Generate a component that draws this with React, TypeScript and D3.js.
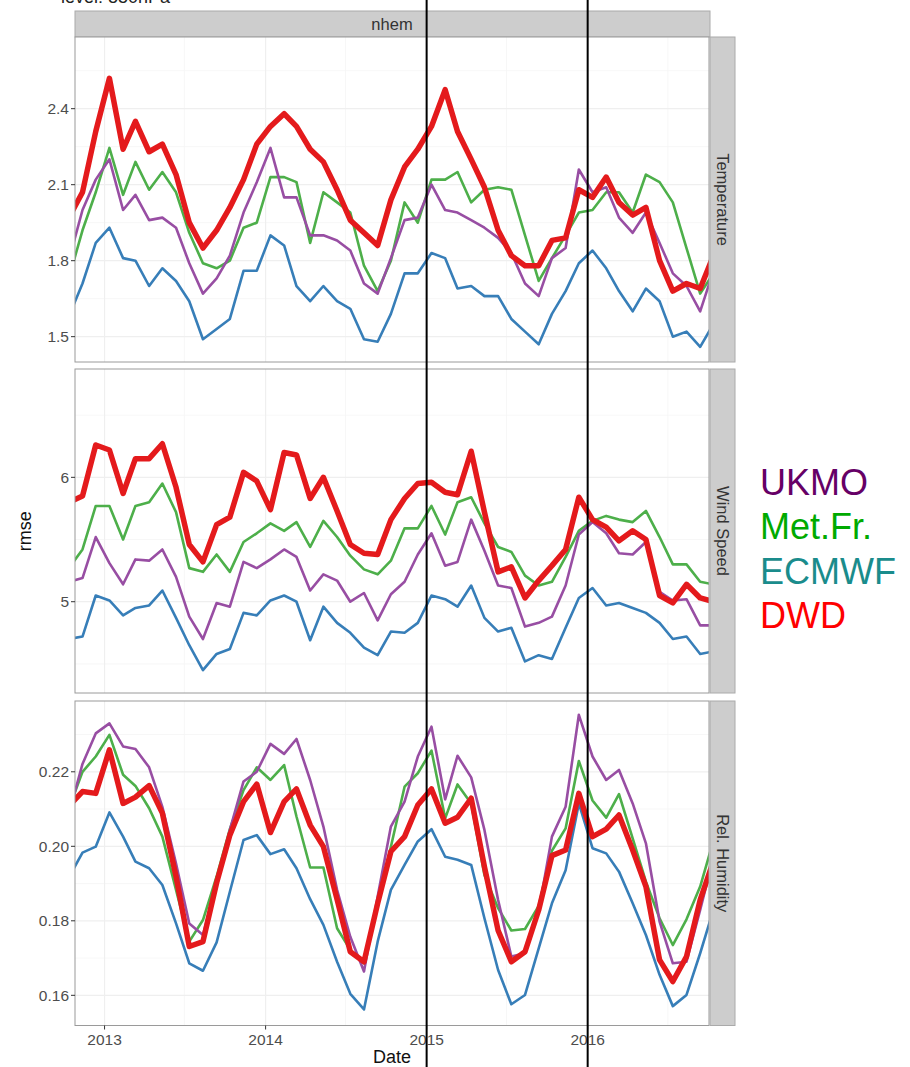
import React from 'react';
import * as d3 from 'd3';

const width = 910;
const height = 1067;
const plotLeft = 75;
const plotRight = 709;
const font = '"Liberation Sans", Arial, Helvetica, sans-serif';

// monthly points, Oct 2012 .. Oct 2016 (first and last get clipped by the panel)
const months = d3.timeMonth
  .range(new Date(2012, 9, 1), new Date(2016, 10, 1))
  .map((d) => new Date(d.getFullYear(), d.getMonth(), 12));

const models = ['ECMWF', 'Met.Fr.', 'UKMO', 'DWD'];
const lineColors = { UKMO: '#984EA3', 'Met.Fr.': '#4DAF4A', ECMWF: '#377EB8', DWD: '#E41A1C' };
const legendNames = ['UKMO', 'Met.Fr.', 'ECMWF', 'DWD'];
const legendColors = ['#660066', '#00AA00', '#1A8C8C', '#FF0000'];
const markerYears = [2015, 2016];
const yearTicks = [2013, 2014, 2015, 2016];

const tempDWD = [1.97, 2.07, 2.31, 2.52, 2.24, 2.35, 2.23, 2.26, 2.14, 1.95, 1.85, 1.92, 2.01, 2.12, 2.26, 2.33, 2.38, 2.33, 2.24, 2.19, 2.08, 1.96, 1.91, 1.86, 2.04, 2.17, 2.24, 2.33, 2.475, 2.31, 2.2, 2.09, 1.92, 1.82, 1.78, 1.78, 1.88, 1.89, 2.08, 2.05, 2.13, 2.03, 1.98, 2.01, 1.8, 1.68, 1.71, 1.69, 1.82];
const tempMetFr = [1.73, 1.92, 2.07, 2.245, 2.06, 2.19, 2.08, 2.15, 2.07, 1.91, 1.79, 1.77, 1.8, 1.93, 1.95, 2.13, 2.13, 2.11, 1.87, 2.07, 2.03, 1.99, 1.78, 1.68, 1.8, 2.03, 1.95, 2.12, 2.12, 2.15, 2.03, 2.08, 2.09, 2.08, 1.9, 1.72, 1.81, 1.9, 1.99, 2.0, 2.07, 2.07, 1.99, 2.14, 2.11, 2.03, 1.85, 1.67, 1.75];
const tempUKMO = [1.8, 2.0, 2.12, 2.2, 2.0, 2.06, 1.96, 1.97, 1.93, 1.79, 1.67, 1.73, 1.82, 1.99, 2.11, 2.245, 2.05, 2.05, 1.9, 1.9, 1.88, 1.84, 1.71, 1.67, 1.81, 1.96, 1.97, 2.1, 2.0, 1.99, 1.96, 1.93, 1.89, 1.83, 1.71, 1.66, 1.81, 1.85, 2.16, 2.07, 2.09, 1.97, 1.91, 1.99, 1.87, 1.75, 1.7, 1.6, 1.76];
const tempECMWF = [1.58, 1.71, 1.87, 1.93, 1.81, 1.8, 1.7, 1.77, 1.72, 1.64, 1.49, 1.53, 1.57, 1.76, 1.76, 1.9, 1.86, 1.7, 1.64, 1.7, 1.64, 1.61, 1.49, 1.48, 1.59, 1.75, 1.75, 1.83, 1.81, 1.69, 1.7, 1.66, 1.66, 1.57, 1.52, 1.47, 1.59, 1.68, 1.79, 1.84, 1.77, 1.68, 1.6, 1.69, 1.64, 1.5, 1.52, 1.46, 1.55];

const windDWD = [5.8, 5.85, 6.26, 6.22, 5.87, 6.15, 6.15, 6.27, 5.92, 5.46, 5.32, 5.62, 5.68, 6.04, 5.97, 5.74, 6.2, 6.18, 5.83, 6.0, 5.73, 5.46, 5.39, 5.38, 5.66, 5.83, 5.95, 5.96, 5.88, 5.86, 6.21, 5.72, 5.24, 5.28, 5.03, 5.17, 5.29, 5.42, 5.84, 5.66, 5.6, 5.49, 5.57, 5.5, 5.05, 4.99, 5.14, 5.03, 5.0];
const windMetFr = [5.27, 5.42, 5.77, 5.77, 5.5, 5.77, 5.8, 5.95, 5.72, 5.27, 5.24, 5.38, 5.24, 5.48, 5.55, 5.63, 5.57, 5.64, 5.44, 5.65, 5.52, 5.37, 5.26, 5.22, 5.33, 5.59, 5.59, 5.77, 5.54, 5.8, 5.84, 5.63, 5.44, 5.4, 5.21, 5.13, 5.16, 5.36, 5.57, 5.65, 5.69, 5.66, 5.64, 5.73, 5.52, 5.3, 5.3, 5.16, 5.14];
const windUKMO = [5.16, 5.19, 5.52, 5.31, 5.14, 5.34, 5.33, 5.42, 5.2, 4.88, 4.7, 4.99, 4.96, 5.32, 5.27, 5.34, 5.42, 5.36, 5.09, 5.22, 5.17, 5.0, 5.07, 4.85, 5.06, 5.16, 5.38, 5.55, 5.29, 5.32, 5.66, 5.41, 5.13, 5.11, 4.8, 4.83, 4.88, 5.13, 5.54, 5.64, 5.55, 5.39, 5.38, 5.48, 5.08, 5.01, 5.02, 4.81, 4.81];
const windECMWF = [4.7, 4.72, 5.05, 5.01, 4.89, 4.95, 4.97, 5.09, 4.87, 4.65, 4.45, 4.58, 4.62, 4.91, 4.89, 5.01, 5.05, 5.0, 4.69, 4.96, 4.83, 4.75, 4.63, 4.57, 4.76, 4.75, 4.83, 5.05, 5.02, 4.96, 5.13, 4.87, 4.76, 4.79, 4.52, 4.57, 4.54, 4.79, 5.03, 5.11, 4.97, 4.99, 4.95, 4.91, 4.83, 4.7, 4.72, 4.58, 4.6];

const rhDWD = [0.2108, 0.2147, 0.2142, 0.2259, 0.2115, 0.2132, 0.2163, 0.2089, 0.1919, 0.1731, 0.1744, 0.1902, 0.203, 0.212, 0.2167, 0.2037, 0.212, 0.2154, 0.2057, 0.1999, 0.1858, 0.1717, 0.169, 0.1847, 0.1986, 0.2026, 0.2111, 0.2154, 0.2062, 0.2078, 0.2129, 0.1945, 0.1774, 0.169, 0.1717, 0.1829, 0.1975, 0.199, 0.2142, 0.2026, 0.2046, 0.2084, 0.199, 0.1892, 0.1695, 0.1637, 0.1704, 0.1856, 0.196];
const rhMetFr = [0.2101, 0.22, 0.2241, 0.2299, 0.2192, 0.2162, 0.2102, 0.2026, 0.1883, 0.1744, 0.1802, 0.1919, 0.2046, 0.2151, 0.2212, 0.2178, 0.2218, 0.208, 0.1943, 0.1943, 0.178, 0.1722, 0.1686, 0.1847, 0.1999, 0.216, 0.2196, 0.2257, 0.2075, 0.2166, 0.2115, 0.1923, 0.1834, 0.1774, 0.1778, 0.184, 0.1988, 0.2048, 0.2229, 0.2123, 0.2077, 0.214, 0.2021, 0.1905, 0.1807, 0.1735, 0.1804, 0.1892, 0.2015];
const rhUKMO = [0.2087, 0.2221, 0.2303, 0.233, 0.2268, 0.2261, 0.2212, 0.2106, 0.1954, 0.1793, 0.1762, 0.1901, 0.2044, 0.2174, 0.22, 0.2275, 0.2248, 0.2288, 0.2178, 0.2053, 0.1883, 0.1757, 0.1664, 0.1865, 0.2053, 0.212, 0.2241, 0.2321, 0.2126, 0.2243, 0.2185, 0.2044, 0.1856, 0.1704, 0.1713, 0.1827, 0.2026, 0.2106, 0.2353, 0.2241, 0.2178, 0.2205, 0.2115, 0.2008, 0.1798, 0.1686, 0.169, 0.1829, 0.197];
const rhECMWF = [0.1916, 0.1983, 0.1999, 0.2091, 0.2026, 0.1959, 0.1941, 0.1896, 0.1793, 0.1686, 0.1666, 0.1742, 0.1878, 0.2017, 0.203, 0.1979, 0.1992, 0.1941, 0.1858, 0.1789, 0.169, 0.1604, 0.1562, 0.1744, 0.1883, 0.195, 0.2013, 0.2046, 0.1972, 0.1964, 0.195, 0.1807, 0.1668, 0.1576, 0.1601, 0.1726, 0.1847, 0.1936, 0.2115, 0.1995, 0.1981, 0.1932, 0.1847, 0.1762, 0.1655, 0.1571, 0.1601, 0.1713, 0.183];

const panels = [
  {
    label: 'Temperature', top: 37, bottom: 362, domain: [1.4, 2.683],
    ticks: [1.5, 1.8, 2.1, 2.4], minor: [1.65, 1.95, 2.25, 2.55], fmt: d3.format('.1f'),
    series: { ECMWF: tempECMWF, 'Met.Fr.': tempMetFr, UKMO: tempUKMO, DWD: tempDWD },
  },
  {
    label: 'Wind Speed', top: 369, bottom: 693, domain: [4.266, 6.871],
    ticks: [5, 6], minor: [4.5, 5.5, 6.5], fmt: d3.format('d'),
    series: { ECMWF: windECMWF, 'Met.Fr.': windMetFr, UKMO: windUKMO, DWD: windDWD },
  },
  {
    label: 'Rel. Humidity', top: 701, bottom: 1025.5, domain: [0.1519, 0.239],
    ticks: [0.16, 0.18, 0.2, 0.22], minor: [0.17, 0.19, 0.21, 0.23], fmt: d3.format('.2f'),
    series: { ECMWF: rhECMWF, 'Met.Fr.': rhMetFr, UKMO: rhUKMO, DWD: rhDWD },
  },
];

const xScale = d3.scaleTime()
  .domain([new Date(2012, 9, 26), new Date(2016, 9, 2)])
  .range([plotLeft, plotRight]);

const Panel = ({ p, idx }) => {
  const yScale = d3.scaleLinear().domain(p.domain).range([p.bottom, p.top]);
  const line = d3.line().x((d, i) => xScale(months[i])).y((d) => yScale(d));
  const clipId = `clip-${idx}`;
  const majorX = yearTicks.map((y) => new Date(y, 0, 1));
  const minorX = [2012, 2013, 2014, 2015, 2016].map((y) => new Date(y, 6, 1));
  return (
    <g>
      <defs>
        <clipPath id={clipId}>
          <rect x={plotLeft} y={p.top} width={plotRight - plotLeft} height={p.bottom - p.top} />
        </clipPath>
      </defs>
      <rect x={plotLeft} y={p.top} width={plotRight - plotLeft} height={p.bottom - p.top} fill="#fff" />
      <g clipPath={`url(#${clipId})`}>
        {p.minor.map((t) => (
          <line key={'mn' + t} x1={plotLeft} x2={plotRight} y1={yScale(t)} y2={yScale(t)} stroke="#F5F5F5" strokeWidth={0.8} />
        ))}
        {minorX.map((d) => (
          <line key={'mx' + d} x1={xScale(d)} x2={xScale(d)} y1={p.top} y2={p.bottom} stroke="#F5F5F5" strokeWidth={0.8} />
        ))}
        {p.ticks.map((t) => (
          <line key={'gy' + t} x1={plotLeft} x2={plotRight} y1={yScale(t)} y2={yScale(t)} stroke="#EFEFEF" strokeWidth={1.2} />
        ))}
        {majorX.map((d) => (
          <line key={'gx' + d} x1={xScale(d)} x2={xScale(d)} y1={p.top} y2={p.bottom} stroke="#EFEFEF" strokeWidth={1.2} />
        ))}
        {models.map((m) => (
          <path key={m} d={line(p.series[m])} fill="none" stroke={lineColors[m]}
            strokeWidth={m === 'DWD' ? 5.5 : 2.6} strokeLinejoin="round" />
        ))}
      </g>
      <rect x={plotLeft} y={p.top} width={plotRight - plotLeft} height={p.bottom - p.top} fill="none" stroke="#9A9A9A" strokeWidth={1} />
      {p.ticks.map((t) => (
        <g key={'t' + t} transform={`translate(0,${yScale(t)})`}>
          <line x1={plotLeft - 4} x2={plotLeft} stroke="#333" strokeWidth={1} />
          <text x={plotLeft - 6} dy="0.36em" textAnchor="end" fontSize={15.5} fill="#4D4D4D" fontFamily={font}>{p.fmt(t)}</text>
        </g>
      ))}
      <rect x={plotRight + 1} y={p.top} width={25} height={p.bottom - p.top} fill="#CDCDCD" stroke="#AAAAAA" strokeWidth={1} />
      <text transform={`translate(${plotRight + 13.5},${(p.top + p.bottom) / 2}) rotate(90)`} textAnchor="middle" dy="0.36em"
        fontSize={16.5} fill="#333" fontFamily={font}>{p.label}</text>
    </g>
  );
};

export default function App() {
  const last = panels[panels.length - 1];
  return (
    <svg width={width} height={height} style={{ position: 'absolute', left: 0, top: 0, background: '#fff' }}>
      <text x={61} y={3} fontSize={18} fill="#222" fontFamily={font}>level: 850hPa</text>
      <rect x={plotLeft} y={11} width={plotRight - plotLeft + 1} height={26} fill="#CDCDCD" stroke="#AAAAAA" strokeWidth={1} />
      <text x={(plotLeft + plotRight) / 2} y={24} dy="0.36em" textAnchor="middle" fontSize={16.5} fill="#333" fontFamily={font}>nhem</text>
      {panels.map((p, i) => (
        <Panel key={p.label} p={p} idx={i} />
      ))}
      {yearTicks.map((y) => (
        <g key={y} transform={`translate(${xScale(new Date(y, 0, 1))},${last.bottom})`}>
          <line y1={0} y2={4} stroke="#333" strokeWidth={1} />
          <text y={14} dy="0.36em" textAnchor="middle" fontSize={15.5} fill="#4D4D4D" fontFamily={font}>{y}</text>
        </g>
      ))}
      <text x={(plotLeft + plotRight) / 2} y={1063} textAnchor="middle" fontSize={18} fill="#111" fontFamily={font}>Date</text>
      <text transform={`translate(31,${(panels[0].top + last.bottom) / 2}) rotate(-90)`} textAnchor="middle" fontSize={18} fill="#111" fontFamily={font}>rmse</text>
      {legendNames.map((n, i) => (
        <text key={n} x={760} y={495 + i * 44.3} fontSize={36} fill={legendColors[i]} fontFamily={font}>{n}</text>
      ))}
      {markerYears.map((y) => (
        <line key={y} x1={xScale(new Date(y, 0, 1))} x2={xScale(new Date(y, 0, 1))} y1={0} y2={height} stroke="#000" strokeWidth={2} />
      ))}
    </svg>
  );
}
